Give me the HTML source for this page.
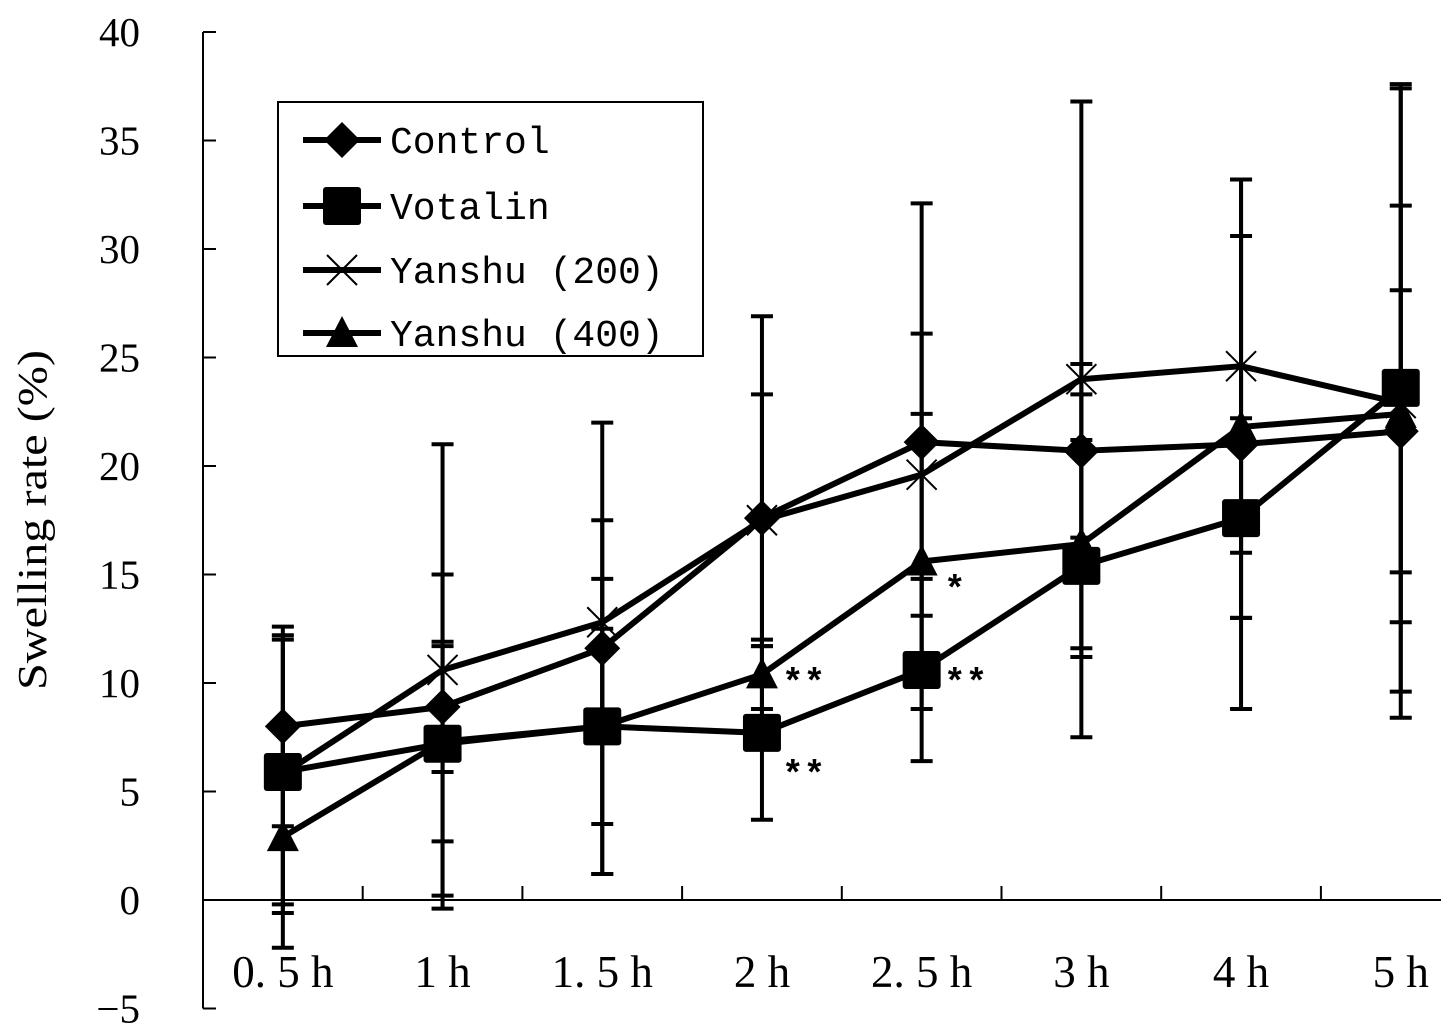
<!DOCTYPE html>
<html><head><meta charset="utf-8"><style>
body{margin:0;background:#fff}
svg{display:block}
</style></head><body>
<svg id="chart" width="1441" height="1036" viewBox="0 0 1441 1036" xmlns="http://www.w3.org/2000/svg">
<g id="axes"></g>
<g id="series"></g>
<text transform="translate(46,520) rotate(-90)" text-anchor="middle" font-family="Liberation Serif, serif" font-size="41" textLength="340" lengthAdjust="spacingAndGlyphs">Swelling rate (%)</text>
<g>
<rect x="278" y="102" width="425" height="254" fill="#fff" stroke="#000" stroke-width="2"/>
<g id="legend-entries"></g>
</g>
<g font-family="Liberation Mono, monospace" font-size="36" font-weight="bold">
<text x="782" y="693">**</text>
<text x="944" y="693">**</text>
<text x="782" y="785">**</text>
<text x="944" y="600">*</text>
</g>
</svg>
<script>
const categories = ["0. 5 h","1 h","1. 5 h","2 h","2. 5 h","3 h","4 h","5 h"];
const yTicks = [-5,0,5,10,15,20,25,30,35,40];
const seriesNames = ["Control","Votalin","Yanshu (200)","Yanshu (400)"];
const controlVals = [8.0,8.9,11.6,17.6,21.1,20.7,21.0,21.6];
const controlErr = [4.6,3.0,10.4,9.3,11.0,4.0,12.2,6.5];
const votalinVals = [5.9,7.2,8.0,7.7,10.6,15.4,17.6,23.6];
const votalinErr = [6.1,4.5,4.5,4.0,4.2,7.9,4.6,14.0];
const y200Vals = [5.8,10.6,12.8,17.5,19.6,24.0,24.6,22.9];
const y200Err = [6.4,10.4,4.7,5.8,6.5,12.8,8.6,14.5];
const y400Vals = [2.9,7.3,8.0,10.4,15.6,16.4,21.8,22.4];
const y400Err = [5.1,7.7,6.8,1.6,6.8,4.8,8.8,9.6];

const NS="http://www.w3.org/2000/svg";
const X0=203, BAND=159.7, Y0PX=900, PXU=21.7;
const xs=i=>X0+BAND*(i+0.5);
const ys=v=>Y0PX-v*PXU;
function mk(tag,attrs,parent){const e=document.createElementNS(NS,tag);for(const k in attrs)e.setAttribute(k,attrs[k]);parent.appendChild(e);return e;}
const axes=document.getElementById('axes');
let e=mk('line',{x1:X0,y1:ys(40),x2:X0,y2:ys(-5),stroke:'#000','stroke-width':2},axes);


e=mk('line',{x1:X0,y1:Y0PX,x2:1441,y2:Y0PX,stroke:'#000','stroke-width':2},axes);


yTicks.forEach(t=>{
 mk('line',{x1:X0,y1:ys(t),x2:X0+13,y2:ys(t),stroke:'#000','stroke-width':2},axes);
 const tx=mk('text',{x:140,y:ys(t)+14,'text-anchor':'end','font-family':'Liberation Serif, serif','font-size':41},axes);
 tx.textContent=(t<0?'\u2212'+(-t):t);
 
 
});
categories.forEach((c,i)=>{
 const bx=X0+BAND*(i+1);
 if(bx<1441) mk('line',{x1:bx,y1:Y0PX,x2:bx,y2:Y0PX-14,stroke:'#000','stroke-width':2},axes);
 const tx=mk('text',{x:xs(i),y:987,'text-anchor':'middle','font-family':'Liberation Serif, serif','font-size':45},axes);
 tx.textContent=c;
 
 
});
function marker(type,x,y,g){
 if(type==='diamond') return mk('polygon',{points:`${x},${y-18} ${x+18},${y} ${x},${y+18} ${x-18},${y}`,fill:'#000'},g);
 if(type==='square') return mk('rect',{x:x-19,y:y-19,width:38,height:38,rx:3,fill:'#000'},g);
 if(type==='triangle') return mk('polygon',{points:`${x},${y-17} ${x+16},${y+14} ${x-16},${y+14}`,fill:'#000'},g);
 const gg=mk('g',{stroke:'#000','stroke-width':2},g);
 mk('line',{x1:x-15,y1:y-15,x2:x+15,y2:y+15},gg);mk('line',{x1:x-15,y1:y+15,x2:x+15,y2:y-15},gg);
 return gg;
}
const S=[[controlVals,controlErr,'diamond','control'],[votalinVals,votalinErr,'square','votalin'],[y200Vals,y200Err,'cross','yanshu-200'],[y400Vals,y400Err,'triangle','yanshu-400']];
const sg=document.getElementById('series');
S.forEach(([v,err,m,n])=>{
 const g=mk('g',{},sg);
 
 
 v.forEach((val,i)=>{
  const x=xs(i),t=ys(val+err[i]),b=ys(val-err[i]);
  mk('line',{x1:x,y1:t,x2:x,y2:b,stroke:'#000','stroke-width':4},g);
  mk('line',{x1:x-11,y1:t,x2:x+11,y2:t,stroke:'#000','stroke-width':4},g);
  mk('line',{x1:x-11,y1:b,x2:x+11,y2:b,stroke:'#000','stroke-width':4},g);
 });
 const l=mk('polyline',{points:v.map((val,i)=>xs(i)+','+ys(val)).join(' '),fill:'none',stroke:'#000','stroke-width':6,'stroke-linejoin':'round'},g);
 
 
 v.forEach((val,i)=>{const p=marker(m,xs(i),ys(val),g);
  
  });
});
const lg=document.getElementById('legend-entries');
const rowsY=[140,206,270,333];
S.forEach(([v,err,m,n],i)=>{
 const g=mk('g',{},lg);
 
 
 mk('line',{x1:303,y1:rowsY[i],x2:381,y2:rowsY[i],stroke:'#000','stroke-width':6},g);
 marker(m,342,rowsY[i],g);
 const t=mk('text',{x:390,y:rowsY[i]+13,'font-family':'Liberation Mono, monospace','font-size':38},g);
 t.textContent=seriesNames[i];
});
</script>
</body></html>
